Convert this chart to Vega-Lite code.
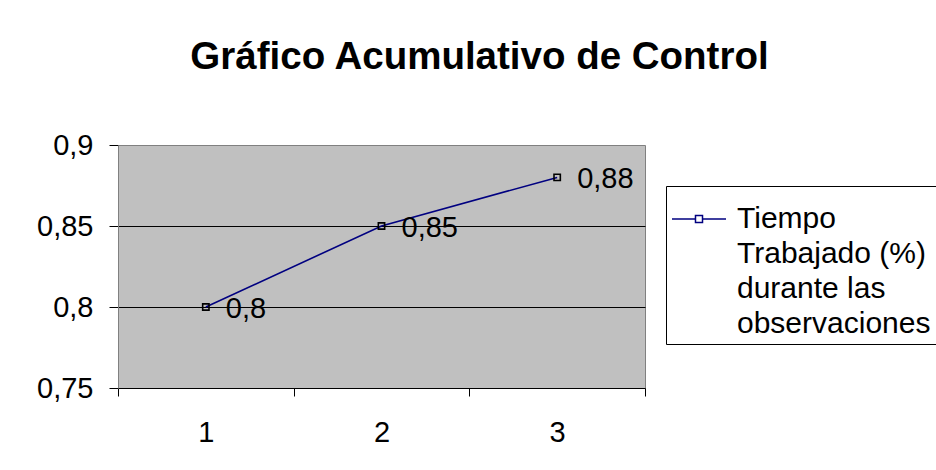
{
  "$schema": "https://vega.github.io/schema/vega-lite/v6.json",
  "autosize": "none",
  "width": 527,
  "height": 243,
  "padding": {"left": 118, "top": 145, "right": 291, "bottom": 82},
  "background": "white",
  "title": {
    "text": "Gráfico Acumulativo de Control",
    "anchor": "middle",
    "dx": 98,
    "offset": 54,
    "font": "Liberation Sans",
    "fontSize": 38.5,
    "fontWeight": "bold",
    "color": "black"
  },
  "data": {
    "values": [
      {"observacion": "1", "valor": 0.80, "serie": "Tiempo|Trabajado (%)|durante las|observaciones"},
      {"observacion": "2", "valor": 0.85, "serie": "Tiempo|Trabajado (%)|durante las|observaciones"},
      {"observacion": "3", "valor": 0.88, "serie": "Tiempo|Trabajado (%)|durante las|observaciones"}
    ]
  },
  "encoding": {
    "x": {
      "field": "observacion",
      "type": "ordinal",
      "scale": {"type": "band", "paddingInner": 0, "paddingOuter": 0},
      "axis": {
        "title": null,
        "labelAngle": 0,
        "labelFont": "Liberation Sans",
        "labelFontSize": 29,
        "labelColor": "black",
        "labelPadding": 22,
        "tickBand": "extent",
        "tickSize": 8,
        "tickColor": "black",
        "domainColor": "black",
        "grid": false
      }
    },
    "y": {
      "field": "valor",
      "type": "quantitative",
      "scale": {"domain": [0.75, 0.9], "nice": false, "zero": false},
      "axis": {
        "title": null,
        "values": [0.75, 0.8, 0.85, 0.9],
        "format": ".2~f",
        "labelFont": "Liberation Sans",
        "labelFontSize": 29,
        "labelColor": "black",
        "labelPadding": 16,
        "tickSize": 9,
        "tickColor": "black",
        "domainColor": "#808080",
        "grid": true,
        "gridColor": "black",
        "gridOpacity": {"expr": "datum.value > 0.76 && datum.value < 0.89 ? 1 : 0"}
      }
    }
  },
  "layer": [
    {
      "mark": {"type": "line", "strokeWidth": 1.6},
      "encoding": {
        "color": {
          "field": "serie",
          "type": "nominal",
          "scale": {"range": ["#000080"]},
          "legend": {
            "title": null,
            "orient": "none",
            "legendX": 548,
            "legendY": 41,
            "padding": 5,
            "strokeColor": "black",
            "fillColor": "white",
            "cornerRadius": 0,
            "symbolType": "M-1,0H-0.13M0.13,0H1M-0.13,-0.13H0.13V0.13H-0.13Z",
            "symbolSize": 2916,
            "symbolStrokeWidth": 1.5,
            "labelOffset": 10,
            "labelFont": "Liberation Sans",
            "labelFontSize": 30,
            "labelColor": "black",
            "labelLimit": 400,
            "labelExpr": "split(datum.label, '|')"
          }
        }
      }
    },
    {
      "mark": {"type": "point", "shape": "square", "filled": false, "size": 40, "stroke": "black", "strokeWidth": 1.6, "opacity": 1}
    },
    {
      "mark": {"type": "text", "align": "left", "baseline": "middle", "dx": 20, "dy": 2, "font": "Liberation Sans", "fontSize": 29, "color": "black"},
      "encoding": {"text": {"field": "valor", "type": "quantitative", "format": ".2~f"}}
    }
  ],
  "config": {
    "locale": {"number": {"decimal": ",", "thousands": ".", "grouping": [3], "currency": ["", " €"]}},
    "view": {"fill": "#c0c0c0", "stroke": "#808080", "strokeWidth": 1},
    "style": {"guide-label": {"lineHeight": 35}}
  }
}
